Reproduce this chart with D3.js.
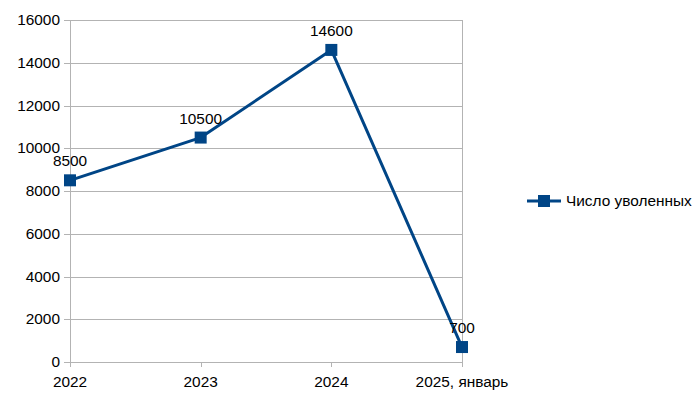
<!DOCTYPE html>
<meta charset='utf-8'>
<style>
    body { margin: 0; background: #fff; }
    text { font-family: 'Liberation Sans', Arial, sans-serif; font-size: 15.4px; fill: #000; }
    .grid line { stroke: #b3b3b3; stroke-width: 1; }
</style>

<svg width="700" height="395"></svg>
<script src="https://d3js.org/d3.v7.min.js"></script>

<script>

var categories = ['2022', '2023', '2024', '2025, январь'];
var values = [8500, 10500, 14600, 700];
var yTicks = [0, 2000, 4000, 6000, 8000, 10000, 12000, 14000, 16000];
var seriesName = 'Число уволенных';

var svg = d3.select('svg');
var plotLeft = 70, plotRight = 462, plotTop = 20, plotBottom = 362;
var lineColor = '#004586';

var x = d3.scalePoint()
    .domain(categories)
    .range([plotLeft, plotRight]);

var y = d3.scaleLinear()
    .domain([0, 16000])
    .range([plotBottom, plotTop]);

// horizontal grid
svg.append('g')
    .attr('class', 'grid')
   .selectAll('line')
   .data(yTicks)
   .enter().append('line')
    .attr('x1', plotLeft - 6)
    .attr('x2', plotRight)
    .attr('y1', function(d) { return Math.round(y(d)) + 0.5; })
    .attr('y2', function(d) { return Math.round(y(d)) + 0.5; });

// vertical lines: left axis, right border, category ticks
svg.append('g')
    .attr('class', 'grid')
   .selectAll('line')
   .data(categories)
   .enter().append('line')
    .attr('x1', function(d) { return Math.round(x(d)) + 0.5; })
    .attr('x2', function(d) { return Math.round(x(d)) + 0.5; })
    .attr('y1', function(d, i) { return (i == 0 || i == categories.length - 1) ? plotTop : plotBottom; })
    .attr('y2', plotBottom + 5);

// y labels
svg.append('g')
   .selectAll('text')
   .data(yTicks)
   .enter().append('text')
    .attr('x', plotLeft - 10)
    .attr('y', function(d) { return y(d) + 5; })
    .attr('text-anchor', 'end')
    .text(function(d) { return d; });

// x labels
svg.append('g')
   .selectAll('text')
   .data(categories)
   .enter().append('text')
    .attr('x', function(d) { return x(d); })
    .attr('y', plotBottom + 25)
    .attr('text-anchor', 'middle')
    .text(function(d) { return d; });

var pts = categories.map(function(c, i) { return { c: c, v: values[i] }; });

svg.append('path')
    .datum(pts)
    .attr('fill', 'none')
    .attr('stroke', lineColor)
    .attr('stroke-width', 3)
    .attr('stroke-linejoin', 'round')
    .attr('d', d3.line()
        .x(function(d) { return x(d.c); })
        .y(function(d) { return y(d.v); }));

svg.append('g')
   .selectAll('rect')
   .data(pts)
   .enter().append('rect')
    .attr('x', function(d) { return x(d.c) - 6; })
    .attr('y', function(d) { return y(d.v) - 6; })
    .attr('width', 12)
    .attr('height', 12)
    .attr('fill', lineColor);

// data labels
svg.append('g')
   .selectAll('text')
   .data(pts)
   .enter().append('text')
    .attr('x', function(d) { return x(d.c); })
    .attr('y', function(d) { return y(d.v) - 14; })
    .attr('text-anchor', 'middle')
    .text(function(d) { return d.v; });

// legend
var lg = svg.append('g').attr('transform', 'translate(527,201)');
lg.append('line')
    .attr('x1', 0).attr('x2', 34)
    .attr('stroke', lineColor)
    .attr('stroke-width', 3);
lg.append('rect')
    .attr('x', 11).attr('y', -6)
    .attr('width', 12).attr('height', 12)
    .attr('fill', lineColor);
lg.append('text')
    .attr('x', 39)
    .attr('y', 5)
    .text(seriesName);

</script>
